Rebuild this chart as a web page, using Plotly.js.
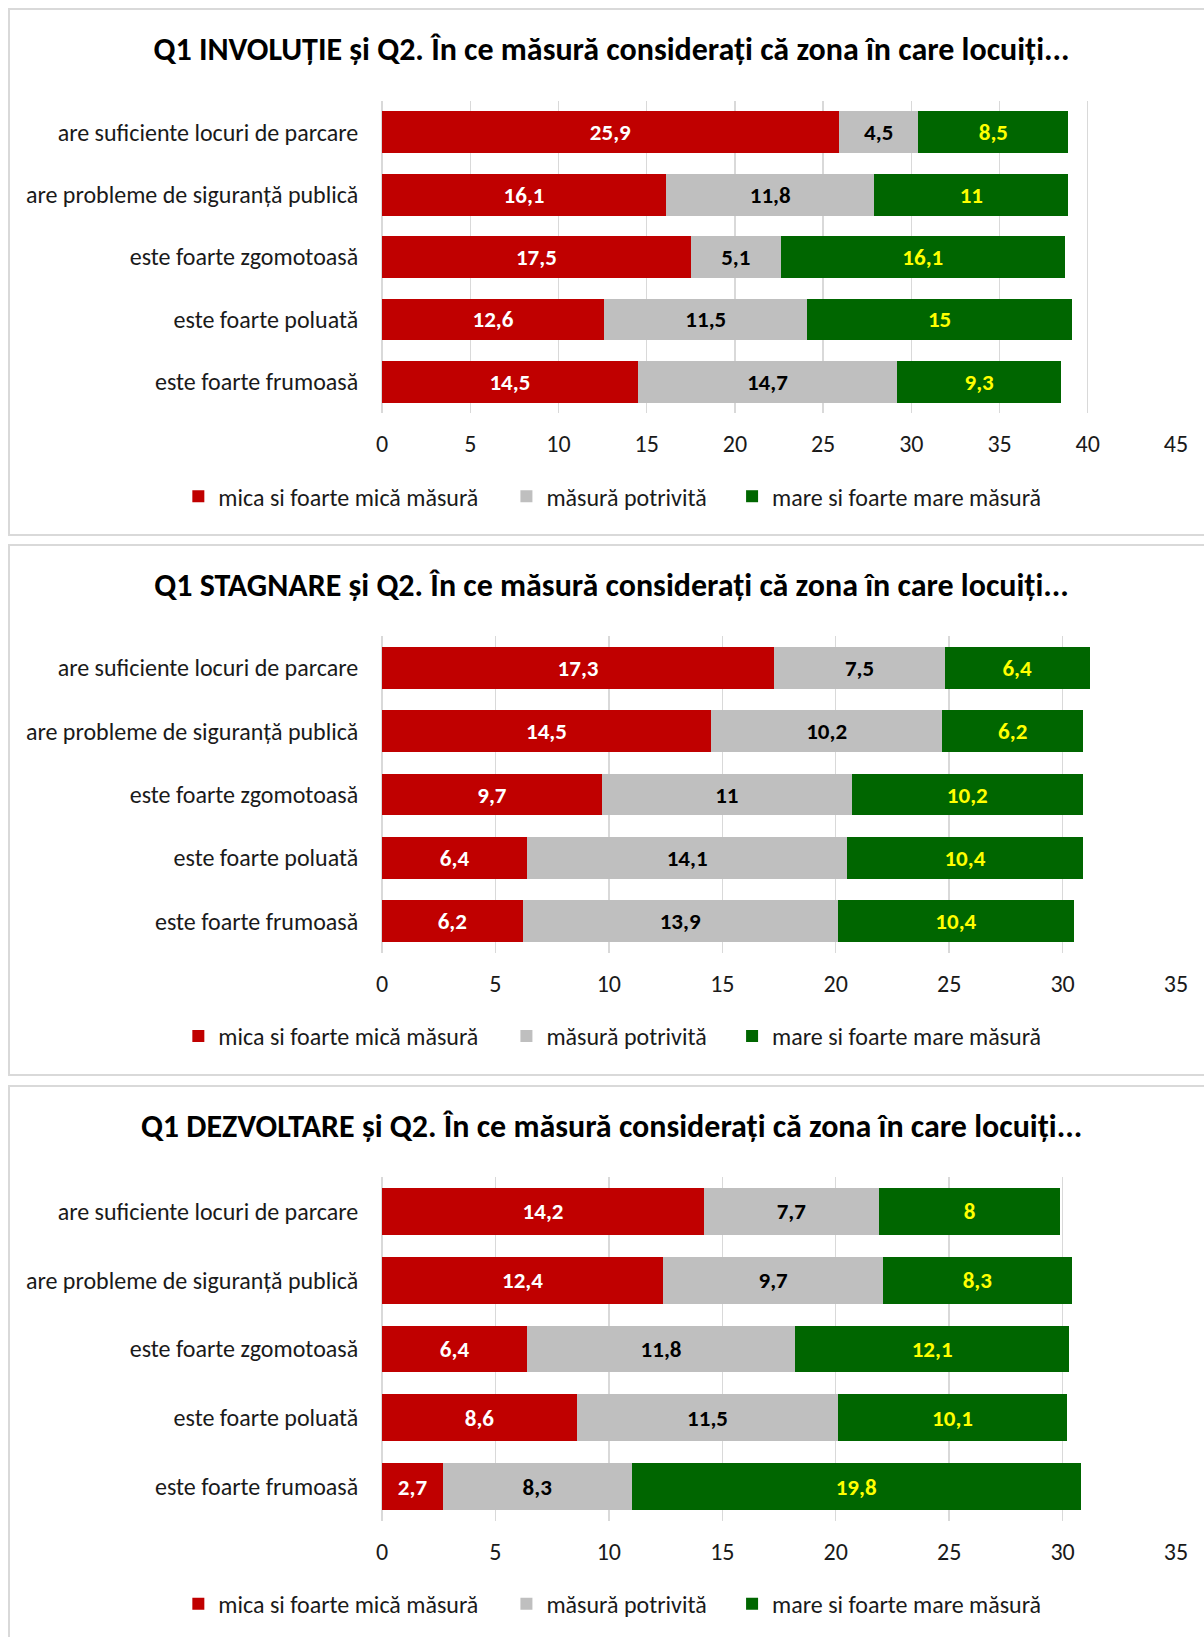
<!DOCTYPE html>
<html>
<head>
<meta charset="utf-8">
<script src="https://cdn.plot.ly/plotly-3.0.1.min.js"></script>
<style>
  html, body { margin: 0; padding: 0; background: #ffffff; }
  body { width: 1204px; height: 1637px; position: relative; overflow: hidden; }
  .panel { position: absolute; border: 2px solid #d9d9d9; background: #fff; box-sizing: border-box; }
  .plot { position: absolute; left: 0; top: 0; }
</style>
</head>
<body>
<div class="panel" style="left:8px; top:8px; width:1200px; height:528px;"><div class="plot" id="c1"></div></div>
<div class="panel" style="left:8px; top:544px; width:1200px; height:532px;"><div class="plot" id="c2"></div></div>
<div class="panel" style="left:8px; top:1085px; width:1200px; height:560px;"><div class="plot" id="c3"></div></div>
<script>
// ---- data ----
const categories = [
  "are suficiente locuri de parcare",
  "are probleme de siguranță publică",
  "este foarte zgomotoasă",
  "este foarte poluată",
  "este foarte frumoasă"
];
const seriesNames = ["mica si foarte mică măsură", "măsură potrivită", "mare si foarte mare măsură"];

const titleInvolutie = "Q1 INVOLUȚIE și Q2. În ce măsură considerați că zona în care locuiți...";
const titleStagnare = "Q1 STAGNARE și Q2. În ce măsură considerați că zona în care locuiți...";
const titleDezvoltare = "Q1 DEZVOLTARE și Q2. În ce măsură considerați că zona în care locuiți...";

const involutieMica = [25.9, 16.1, 17.5, 12.6, 14.5];
const involutiePotrivita = [4.5, 11.8, 5.1, 11.5, 14.7];
const involutieMare = [8.5, 11, 16.1, 15, 9.3];

const stagnareMica = [17.3, 14.5, 9.7, 6.4, 6.2];
const stagnarePotrivita = [7.5, 10.2, 11, 14.1, 13.9];
const stagnareMare = [6.4, 6.2, 10.2, 10.4, 10.4];

const dezvoltareMica = [14.2, 12.4, 6.4, 8.6, 2.7];
const dezvoltarePotrivita = [7.7, 9.7, 11.8, 11.5, 8.3];
const dezvoltareMare = [8, 8.3, 12.1, 10.1, 19.8];

const tickValsInvolutie = [0, 5, 10, 15, 20, 25, 30, 35, 40, 45];
const tickValsShort = [0, 5, 10, 15, 20, 25, 30, 35];

// ---- styling ----
const FONT = "Carlito, 'Liberation Sans Narrow', 'DejaVu Sans Condensed', sans-serif";
const colors = ["#C00000", "#BFBFBF", "#006600"];
const textColors = ["#FFFFFF", "#000000", "#FFFF00"];
const legendIds = ['legend', 'legend2', 'legend3'];
const legendXs = [-0.2565, 0.1567, 0.4409];

function fmt(v) { return String(v).replace('.', ','); }

function draw(id, title, mica, potr, mare, tickvals, cfg) {
  const series = [mica, potr, mare];
  const traces = series.map((vals, i) => ({
    type: 'bar',
    orientation: 'h',
    name: seriesNames[i],
    legend: legendIds[i],
    y: categories,
    x: vals,
    text: vals.map(fmt),
    textposition: 'inside',
    insidetextanchor: 'middle',
    textangle: 0,
    constraintext: 'none',
    textfont: { family: FONT, size: 23, color: textColors[i], weight: 'bold' },
    marker: { color: colors[i], line: { width: 0 } },
    hoverinfo: 'skip'
  }));
  const layout = {
    width: cfg.w, height: cfg.h,
    margin: { l: cfg.l, r: cfg.r, t: cfg.t, b: cfg.b, pad: 0, autoexpand: false },
    paper_bgcolor: '#ffffff', plot_bgcolor: '#ffffff',
    barmode: 'stack',
    bargap: cfg.gap,
    showlegend: true,
    title: {
      text: '<b>' + title + '</b>',
      font: { family: FONT, size: 32, color: '#000000' },
      xref: 'container', x: cfg.titleX, xanchor: 'center',
      yref: 'container', y: cfg.titleY, yanchor: 'middle'
    },
    xaxis: {
      range: [tickvals[0], tickvals[tickvals.length - 1]],
      tickvals: tickvals,
      ticktext: tickvals.map(String),
      showgrid: true, gridcolor: '#d9d9d9', gridwidth: 1.3,
      zeroline: true, zerolinecolor: '#d9d9d9', zerolinewidth: 1.3,
      showline: false,
      ticks: 'outside', ticklen: 9, tickcolor: 'rgba(0,0,0,0)',
      tickfont: { family: FONT, size: 24, color: '#1a1a1a' },
      automargin: false,
      fixedrange: true
    },
    yaxis: {
      autorange: 'reversed',
      showgrid: false, zeroline: false, showline: false,
      ticks: 'outside', ticklen: 18, tickcolor: 'rgba(0,0,0,0)',
      tickfont: { family: FONT, size: 24, color: '#1a1a1a' },
      automargin: false,
      fixedrange: true
    }
  };
  legendIds.forEach((lid, i) => {
    layout[lid] = {
      orientation: 'h',
      xref: 'paper', x: legendXs[i], xanchor: 'left',
      yref: 'paper', y: cfg.legY, yanchor: 'middle',
      font: { family: FONT, size: 24, color: '#1a1a1a' },
      bgcolor: 'rgba(0,0,0,0)',
      itemclick: false, itemdoubleclick: false
    };
  });
  Plotly.newPlot(id, traces, layout, { staticPlot: true, displayModeBar: false });
}

draw('c1', titleInvolutie, involutieMica, involutiePotrivita, involutieMare, tickValsInvolutie,
  { w: 1196, h: 524, l: 372, r: 30, t: 91, b: 121, gap: 0.33, titleX: 0.503, titleY: 1 - 39 / 524, legY: -0.268 });
draw('c2', titleStagnare, stagnareMica, stagnarePotrivita, stagnareMare, tickValsShort,
  { w: 1196, h: 528, l: 372, r: 30, t: 90, b: 120.5, gap: 0.34, titleX: 0.503, titleY: 1 - 39 / 528, legY: -0.263 });
draw('c3', titleDezvoltare, dezvoltareMica, dezvoltarePotrivita, dezvoltareMare, tickValsShort,
  { w: 1196, h: 556, l: 372, r: 30, t: 89.5, b: 121.5, gap: 0.32, titleX: 0.503, titleY: 1 - 38.5 / 556, legY: -0.242 });
</script>
</body>
</html>
